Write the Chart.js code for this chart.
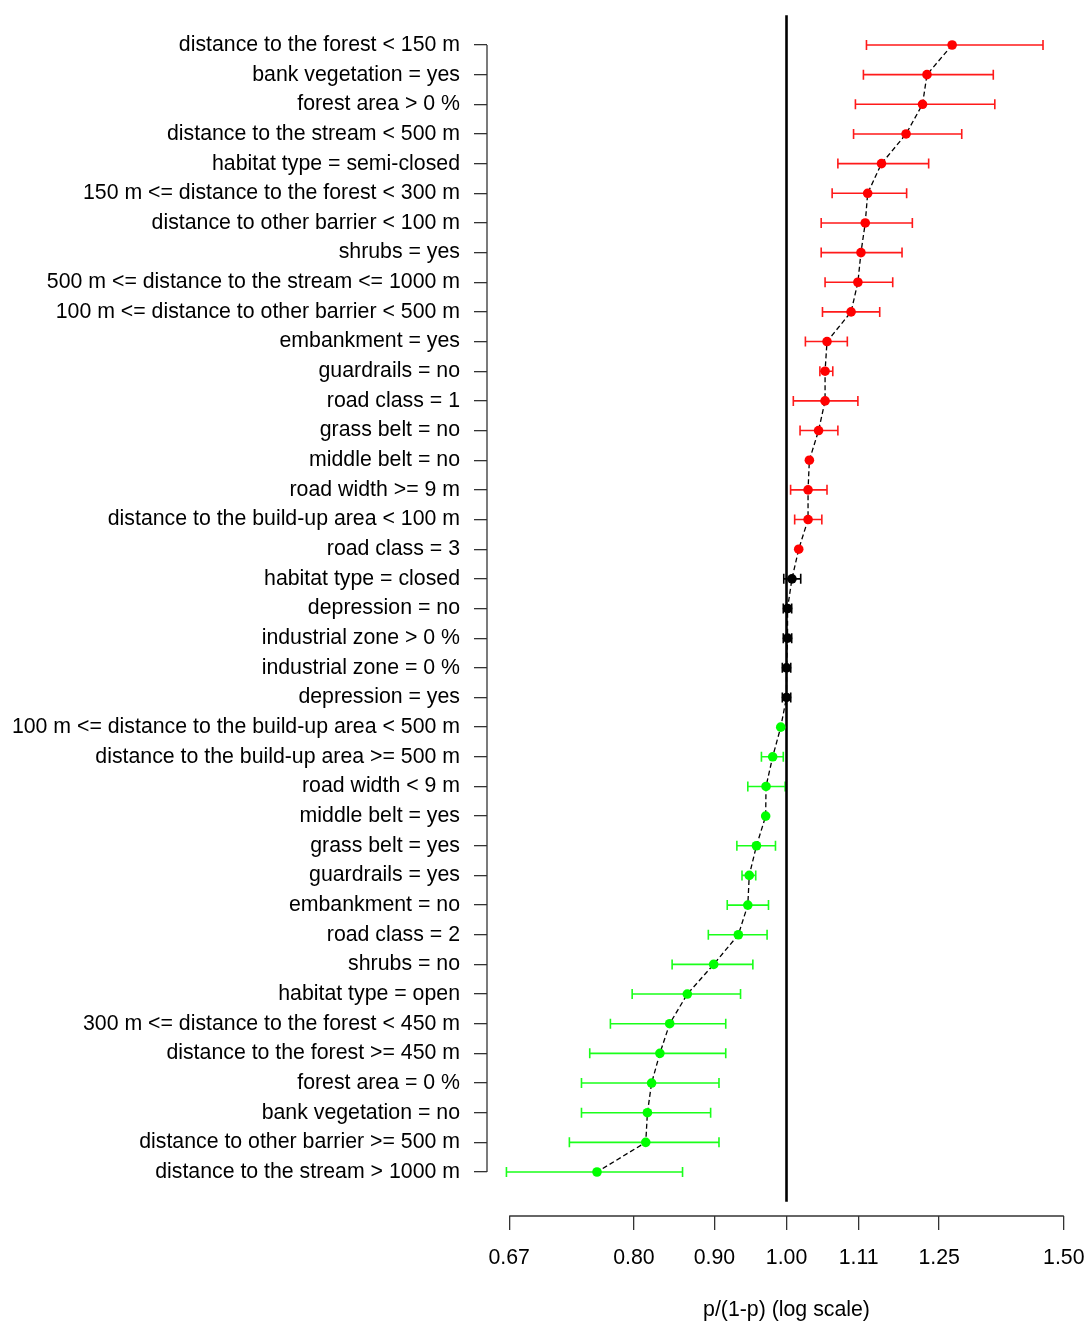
<!DOCTYPE html>
<html>
<head>
<meta charset="utf-8">
<script src="https://cdn.jsdelivr.net/npm/chart.js@4.4.0/dist/chart.umd.min.js"></script>
<style>
  html, body { margin: 0; padding: 0; background: #ffffff; }
  #wrap { width: 1089px; height: 1324px; }
</style>
</head>
<body>
<div id="wrap"><canvas id="c" width="1089" height="1324"></canvas></div>
<script>
// ---- data (top to bottom) ----
const categories = [
  "distance to the forest < 150 m",
  "bank vegetation = yes",
  "forest area > 0 %",
  "distance to the stream < 500 m",
  "habitat type = semi-closed",
  "150 m <= distance to the forest < 300 m",
  "distance to other barrier < 100 m",
  "shrubs = yes",
  "500 m <= distance to the stream <= 1000 m",
  "100 m <= distance to other barrier < 500 m",
  "embankment = yes",
  "guardrails = no",
  "road class = 1",
  "grass belt = no",
  "middle belt = no",
  "road width >= 9 m",
  "distance to the build-up area < 100 m",
  "road class = 3",
  "habitat type = closed",
  "depression = no",
  "industrial zone > 0 %",
  "industrial zone = 0 %",
  "depression = yes",
  "100 m <= distance to the build-up area < 500 m",
  "distance to the build-up area >= 500 m",
  "road width < 9 m",
  "middle belt = yes",
  "grass belt = yes",
  "guardrails = yes",
  "embankment = no",
  "road class = 2",
  "shrubs = no",
  "habitat type = open",
  "300 m <= distance to the forest < 450 m",
  "distance to the forest >= 450 m",
  "forest area = 0 %",
  "bank vegetation = no",
  "distance to other barrier >= 500 m",
  "distance to the stream > 1000 m"
];
const estimate = [
  1.274, 1.228, 1.220, 1.191, 1.149, 1.126, 1.122, 1.115, 1.110, 1.099,
  1.061, 1.058, 1.058, 1.048, 1.034, 1.032, 1.032, 1.018, 1.008, 1.0015,
  1.0015, 1.000, 1.000, 0.9916, 0.980, 0.9705, 0.970, 0.957, 0.947, 0.945,
  0.932, 0.899, 0.865, 0.843, 0.831, 0.821, 0.816, 0.814, 0.758
];
const lower = [
  1.124, 1.119, 1.106, 1.103, 1.078, 1.069, 1.052, 1.052, 1.058, 1.054,
  1.028, 1.050, 1.010, 1.020, 1.034, 1.006, 1.012, 1.018, 0.996, 0.9953,
  0.9953, 0.9939, 0.9939, 0.9916, 0.964, 0.945, 0.970, 0.930, 0.937, 0.917,
  0.892, 0.846, 0.798, 0.773, 0.750, 0.741, 0.741, 0.728, 0.664
];
const upper = [
  1.455, 1.353, 1.356, 1.292, 1.231, 1.192, 1.202, 1.184, 1.168, 1.146,
  1.093, 1.070, 1.110, 1.078, 1.034, 1.061, 1.053, 1.018, 1.021, 1.0076,
  1.0076, 1.0062, 1.0062, 0.9916, 0.9953, 0.998, 0.970, 0.984, 0.956, 0.974,
  0.972, 0.952, 0.935, 0.915, 0.915, 0.906, 0.895, 0.906, 0.859
];
// group: 1 = positive (red), 0 = neutral (black), -1 = negative (green)
const group = [
  1,1,1,1,1,1,1,1,1,1,1,1,1,1,1,1,1,1,
  0,0,0,0,0,
  -1,-1,-1,-1,-1,-1,-1,-1,-1,-1,-1,-1,-1,-1,-1,-1
];
const xTickValues = [0.6667, 0.8, 0.9, 1.0, 1.1111, 1.25, 1.5];
const xTickLabels = ["0.67", "0.80", "0.90", "1.00", "1.11", "1.25", "1.50"];
const xTitle = "p/(1-p) (log scale)";
const referenceValue = 1.0;

const groupColor = { "1": "#ff0000", "0": "#000000", "-1": "#00ff00" };
const barColor = { "1": "#ff1a1a", "0": "#000000", "-1": "#1aff1a" };

const n = categories.length;
const points = estimate.map((v, i) => ({ x: v, y: n - i }));
const pointColors = group.map(g => groupColor[String(g)]);

const FONT = "'Liberation Sans', Arial, Helvetica, sans-serif";
const FSIZE = 21.3;

const forestPlugin = {
  id: 'forest',
  beforeDatasetsDraw(chart) {
    const ctx = chart.ctx;
    const xs = chart.scales.x, ys = chart.scales.y;
    ctx.save();
    for (let i = 0; i < n; i++) {
      const yy = ys.getPixelForValue(n - i);
      const x1 = xs.getPixelForValue(lower[i]);
      const x2 = xs.getPixelForValue(upper[i]);
      if (Math.abs(x2 - x1) < 1.5) continue;
      ctx.strokeStyle = barColor[String(group[i])];
      ctx.lineWidth = 1.6;
      ctx.beginPath();
      ctx.moveTo(x1, yy); ctx.lineTo(x2, yy);
      ctx.moveTo(x1, yy - 5); ctx.lineTo(x1, yy + 5);
      ctx.moveTo(x2, yy - 5); ctx.lineTo(x2, yy + 5);
      ctx.stroke();
    }
    const xr = xs.getPixelForValue(referenceValue);
    ctx.strokeStyle = '#000000';
    ctx.lineWidth = 2.6;
    ctx.beginPath();
    ctx.moveTo(xr, ys.getPixelForValue(n + 1));
    ctx.lineTo(xr, ys.getPixelForValue(0));
    ctx.stroke();
    ctx.restore();
  },
  afterDraw(chart) {
    const ctx = chart.ctx;
    const xs = chart.scales.x, ys = chart.scales.y;
    ctx.save();
    ctx.strokeStyle = '#333333';
    ctx.lineWidth = 1.3;
    const ay = chart.chartArea.bottom;
    ctx.beginPath();
    ctx.moveTo(xs.getPixelForValue(xTickValues[0]), ay);
    ctx.lineTo(xs.getPixelForValue(xTickValues[xTickValues.length - 1]), ay);
    ctx.stroke();
    const ax = chart.chartArea.left;
    ctx.beginPath();
    ctx.moveTo(ax, ys.getPixelForValue(n));
    ctx.lineTo(ax, ys.getPixelForValue(1));
    ctx.stroke();
    ctx.restore();
  }
};

function zeroPad(scale) {
  scale.paddingLeft = 0; scale.paddingRight = 0;
  scale.paddingTop = 0; scale.paddingBottom = 0;
}

new Chart(document.getElementById('c'), {
  type: 'scatter',
  data: {
    datasets: [{
      data: points,
      showLine: true,
      borderColor: '#000000',
      borderWidth: 1.3,
      borderDash: [5, 3],
      pointBackgroundColor: pointColors,
      pointBorderColor: pointColors,
      pointBorderWidth: 0,
      pointRadius: 4.8,
      pointHoverRadius: 4.8
    }]
  },
  options: {
    responsive: false,
    animation: false,
    events: [],
    layout: { autoPadding: false, padding: { top: 0, right: 3, left: 0, bottom: 0 } },
    plugins: { legend: { display: false }, tooltip: { enabled: false } },
    scales: {
      x: {
        type: 'logarithmic',
        position: 'bottom',
        bounds: 'data',
        min: 0.6454,
        max: 1.5494,
        afterFit(scale) { scale.height = 108; zeroPad(scale); },
        afterBuildTicks(scale) { scale.ticks = xTickValues.map(v => ({ value: v })); },
        ticks: {
          autoSkip: false,
          maxRotation: 0,
          padding: 15,
          color: '#000000',
          font: { family: FONT, size: FSIZE },
          callback: (v, i) => xTickLabels[i]
        },
        grid: { drawOnChartArea: false, drawTicks: true, tickLength: 14, color: '#333333', lineWidth: 1.3 },
        border: { display: false },
        title: {
          display: true,
          text: xTitle,
          color: '#000000',
          font: { family: FONT, size: FSIZE },
          padding: { top: 0, bottom: 1 }
        }
      },
      y: {
        type: 'linear',
        position: 'left',
        bounds: 'data',
        min: -0.4836,
        max: 40.517,
        afterFit(scale) { scale.width = 487; zeroPad(scale); },
        afterBuildTicks(scale) {
          scale.ticks = categories.map((c, i) => ({ value: n - i }));
        },
        ticks: {
          autoSkip: false,
          padding: 14,
          color: '#000000',
          font: { family: FONT, size: FSIZE },
          callback: (v) => categories[n - v]
        },
        grid: { drawOnChartArea: false, drawTicks: true, tickLength: 13, color: '#333333', lineWidth: 1.3 },
        border: { display: false }
      }
    }
  },
  plugins: [forestPlugin]
});
</script>
</body>
</html>
